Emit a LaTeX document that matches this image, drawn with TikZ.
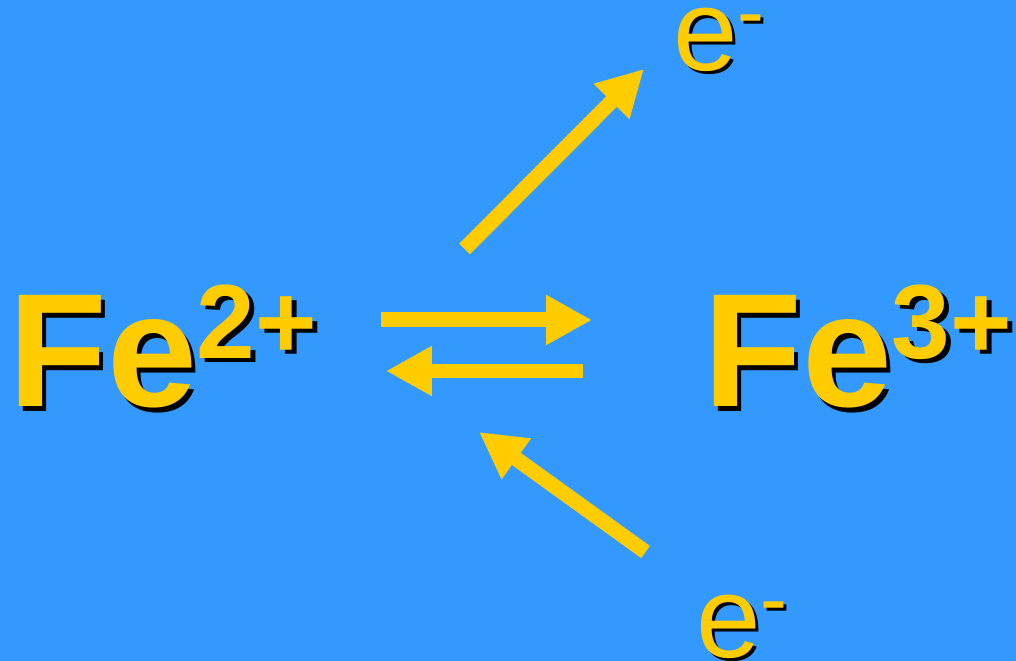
\documentclass[tikz,border=0pt]{standalone}
\usepackage{fontspec}
\setmainfont{Liberation Sans}
\usetikzlibrary{arrows.meta}
\definecolor{ionBlue}{RGB}{51,153,255}
\definecolor{ionGold}{RGB}{255,204,0}
% text with a black drop shadow behind it
\newcommand{\dropshade}[2]{\rlap{\kern#1\raisebox{-#1}{\color{black}#2}}#2}
\tikzset{
  ionlabel/.style={font=\bfseries\fontsize{92}{92}\selectfont,
    text=ionGold, inner sep=0pt, anchor=base west},
  elabel/.style={font=\fontsize{66}{66}\selectfont,
    text=ionGold, inner sep=0pt, anchor=base west},
  flow/.style={-{Triangle[length=9.2mm,width=9.4mm]}, line width=3mm,
    draw=ionGold}
}
\begin{document}
\begin{tikzpicture}[x=0.02cm,y=-0.02cm]
\fill[ionBlue] (0,0) rectangle (1016,661);
\useasboundingbox (0,0) rectangle (1016,661);

\node[ionlabel] (fe2) at (8,407)
  {\dropshade{0.09cm}{Fe\raisebox{0.98cm}{\fontsize{60}{60}\selectfont 2+}}};
\node[ionlabel] (fe3) at (703,407)
  {\dropshade{0.09cm}{Fe\raisebox{0.98cm}{\fontsize{60}{60}\selectfont 3+}}};
\node[elabel] (eout) at (673,71)
  {\dropshade{0.06cm}{e\raisebox{0.62cm}{\fontsize{46}{46}\selectfont -}}};
\node[elabel] (ein) at (696,657)
  {\dropshade{0.06cm}{e\raisebox{0.62cm}{\fontsize{46}{46}\selectfont -}}};

\coordinate (fwdtail) at (381,320);
\coordinate (fwdtip) at (592,320);
\coordinate (revtail) at (583,371);
\coordinate (revtip) at (386,371);
\coordinate (losstail) at (464.5,249);
\coordinate (losstip) at (644,69);
\coordinate (gaintail) at (645.5,552);
\coordinate (gaintip) at (479,432);

\draw[flow] (fwdtail) -- (fwdtip);
\draw[flow] (revtail) -- (revtip);
\draw[flow] (losstail) -- (losstip);
\draw[flow] (gaintail) -- (gaintip);
\end{tikzpicture}
\end{document}
